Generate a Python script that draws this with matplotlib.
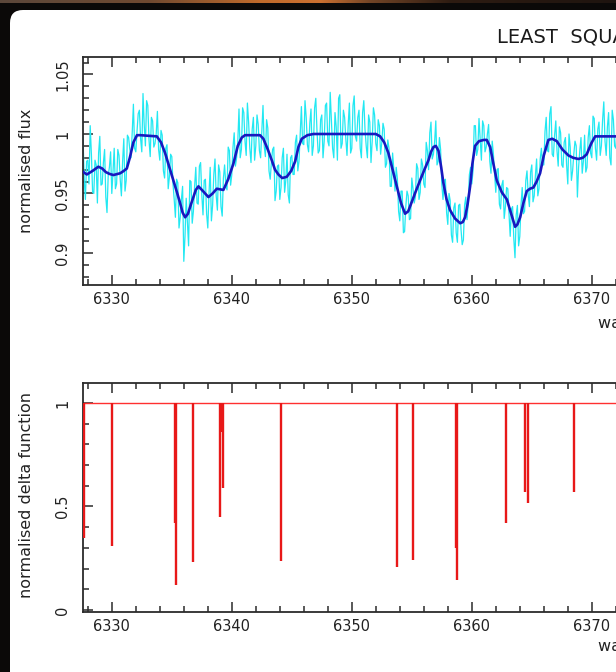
import numpy as np
import matplotlib
matplotlib.use("Agg")
import matplotlib.pyplot as plt
from matplotlib.patches import FancyBboxPatch
from matplotlib.ticker import MultipleLocator, FixedLocator

# ---------------- data ----------------
# observed spectrum: pixels every 0.1 A from 6327.6 A,
# stored as the even pixels and the odd pixels
obs_start = 6327.6
obs_step = 0.1
flux_even = [
    0.998, 0.945, 0.978, 1.007, 0.951, 0.978, 0.942, 0.998, 0.958, 0.987,
    0.934, 0.972, 0.950, 0.988, 0.958, 0.982, 0.948, 0.996, 0.961, 0.997,
    0.980, 1.025, 0.985, 1.017, 0.996, 1.034, 0.990, 1.024, 0.981, 1.011,
    0.992, 1.019, 0.978, 0.999, 0.963, 0.991, 0.964, 0.981, 0.945, 0.962,
    0.921, 0.945, 0.893, 0.946, 0.906, 0.960, 0.935, 0.972, 0.941, 0.976,
    0.932, 0.962, 0.921, 0.972, 0.940, 0.979, 0.936, 0.968, 0.931, 0.974,
    0.953, 0.986, 0.966, 1.001, 0.980, 1.021, 0.987, 1.018, 0.982, 1.010,
    0.976, 1.014, 0.990, 1.008, 0.980, 1.024, 0.981, 1.005, 0.962, 0.987,
    0.944, 0.973, 0.945, 0.980, 0.951, 0.983, 0.942, 0.982, 0.966, 0.999,
    0.977, 1.023, 0.991, 1.014, 0.985, 1.021, 0.990, 1.030, 0.984, 1.012,
    0.980, 1.024, 0.994, 1.035, 0.988, 1.018, 0.978, 1.033, 0.992, 1.014,
    0.982, 1.026, 0.988, 1.032, 0.994, 1.020, 0.980, 1.028, 0.990, 1.016,
    0.976, 1.022, 0.992, 1.012, 0.983, 1.009, 0.972, 0.995, 0.956, 0.984,
    0.952, 0.962, 0.927, 0.952, 0.918, 0.952, 0.928, 0.963, 0.942, 0.975,
    0.945, 0.979, 0.958, 0.993, 0.970, 1.010, 0.983, 1.011, 0.977, 0.987,
    0.945, 0.962, 0.924, 0.944, 0.909, 0.942, 0.909, 0.941, 0.907, 0.940,
    0.928, 0.966, 0.958, 1.007, 0.982, 1.013, 0.978, 1.007, 0.989, 1.008,
    0.967, 0.983, 0.951, 0.971, 0.937, 0.961, 0.939, 0.954, 0.914, 0.939,
    0.896, 0.940, 0.914, 0.955, 0.935, 0.969, 0.939, 0.974, 0.948, 0.979,
    0.954, 0.988, 0.974, 1.014, 0.985, 1.023, 0.981, 1.011, 0.973, 1.001,
    0.972, 0.997, 0.958, 0.989, 0.969, 0.994, 0.947, 0.986, 0.967, 0.999,
    0.972, 1.007, 0.980, 1.013, 0.978, 1.010, 0.990, 1.027, 0.982, 1.018,
    0.974, 1.012, 0.988, 1.020,
]
flux_odd = [
    0.962, 0.977, 0.958, 0.983, 0.950, 0.974, 0.984, 0.957, 0.976, 0.947,
    0.965, 0.985, 0.968, 0.954, 0.987, 0.962, 0.977, 0.952, 0.999, 0.987,
    1.001, 0.988, 1.002, 1.020, 0.985, 1.008, 1.028, 0.995, 1.014, 0.989,
    1.000, 0.987, 1.003, 0.969, 0.988, 0.954, 0.983, 0.958, 0.930, 0.959,
    0.930, 0.956, 0.914, 0.926, 0.961, 0.925, 0.956, 0.942, 0.973, 0.949,
    0.961, 0.933, 0.950, 0.927, 0.966, 0.948, 0.974, 0.939, 0.963, 0.957,
    0.989, 0.957, 0.989, 0.973, 0.994, 0.980, 1.022, 0.994, 1.026, 0.988,
    1.004, 0.978, 1.016, 0.986, 1.002, 0.990, 1.012, 0.969, 0.976, 0.989,
    0.952, 0.974, 0.955, 0.988, 0.961, 0.949, 0.980, 0.966, 0.993, 0.969,
    0.999, 0.992, 1.028, 0.991, 1.009, 0.982, 1.022, 1.002, 0.986, 1.016,
    0.994, 1.026, 0.990, 1.012, 0.980, 1.006, 1.030, 0.988, 1.020, 0.996,
    1.008, 0.984, 1.024, 0.998, 1.014, 0.988, 1.018, 1.004, 0.980, 1.010,
    0.994, 1.016, 0.986, 1.007, 0.993, 1.004, 0.975, 0.988, 0.956, 0.970,
    0.972, 0.935, 0.952, 0.917, 0.939, 0.948, 0.929, 0.954, 0.947, 0.971,
    0.951, 0.974, 0.955, 0.986, 1.001, 0.979, 0.993, 0.974, 0.997, 0.958,
    0.961, 0.934, 0.950, 0.915, 0.938, 0.917, 0.940, 0.920, 0.911, 0.947,
    0.942, 0.972, 0.969, 1.007, 0.987, 0.996, 1.011, 0.985, 1.000, 0.977,
    0.994, 0.966, 0.970, 0.941, 0.957, 0.929, 0.955, 0.933, 0.937, 0.912,
    0.932, 0.906, 0.940, 0.933, 0.961, 0.949, 0.968, 0.943, 0.965, 0.948,
    0.979, 0.974, 1.002, 0.986, 1.017, 0.983, 0.999, 0.986, 1.006, 0.974,
    0.993, 0.974, 1.000, 0.961, 0.983, 0.990, 0.972, 0.997, 0.977, 0.968,
    0.997, 0.984, 1.015, 0.988, 1.004, 0.982, 1.012, 0.994, 1.006, 0.980,
    1.020, 0.990, 1.008,
]

# least-squares model profile
fit_wave = [
    6327.63, 6327.92, 6328.40, 6328.88, 6329.20, 6329.50, 6329.80, 6330.13,
    6330.70, 6331.00, 6331.25, 6331.50, 6331.80, 6332.10, 6332.36, 6333.75,
    6334.10, 6334.44, 6334.80, 6335.13, 6335.40, 6335.69, 6335.90, 6336.11,
    6336.35, 6336.60, 6336.80, 6337.00, 6337.22, 6337.60, 6338.05, 6338.40,
    6338.75, 6339.30, 6339.70, 6340.13, 6340.50, 6340.83, 6341.10, 6342.35,
    6342.63, 6343.00, 6343.33, 6343.60, 6343.88, 6344.20, 6344.58, 6344.95,
    6345.28, 6345.55, 6345.83, 6346.30, 6346.80, 6352.00, 6352.36, 6352.70,
    6353.05, 6353.40, 6353.75, 6354.10, 6354.44, 6354.70, 6355.00, 6355.30,
    6355.69, 6356.05, 6356.39, 6356.60, 6356.80, 6357.00, 6357.22, 6357.45,
    6357.63, 6357.90, 6358.19, 6358.60, 6359.03, 6359.25, 6359.44, 6359.65,
    6359.86, 6360.05, 6360.27, 6360.60, 6361.00, 6361.25, 6361.53, 6361.80,
    6362.08, 6362.50, 6362.92, 6363.25, 6363.61, 6363.80, 6364.03, 6364.30,
    6364.58, 6364.85, 6365.13, 6365.40, 6365.69, 6366.00, 6366.38, 6366.70,
    6367.08, 6367.55, 6368.05, 6368.45, 6368.88, 6369.25, 6369.58, 6369.95,
    6370.28, 6372.03, 6374.00,
]
fit_flux = [
    0.968, 0.966, 0.969, 0.9725, 0.971, 0.968, 0.9665, 0.9655,
    0.967, 0.969, 0.971, 0.980, 0.993, 0.999, 0.999, 0.998,
    0.993, 0.984, 0.972, 0.961, 0.952, 0.942, 0.934, 0.930,
    0.933, 0.941, 0.947, 0.953, 0.956, 0.952, 0.947, 0.950,
    0.954, 0.953, 0.962, 0.975, 0.990, 0.997, 0.999, 0.999,
    0.996, 0.987, 0.978, 0.970, 0.966, 0.963, 0.964, 0.969,
    0.977, 0.989, 0.996, 0.999, 1.000, 1.000, 0.998, 0.993,
    0.984, 0.970, 0.956, 0.942, 0.933, 0.935, 0.943, 0.951,
    0.961, 0.970, 0.978, 0.985, 0.989, 0.990, 0.986, 0.972,
    0.959, 0.945, 0.936, 0.929, 0.925, 0.926, 0.930, 0.941,
    0.956, 0.975, 0.990, 0.994, 0.995, 0.995, 0.989, 0.975,
    0.961, 0.951, 0.945, 0.934, 0.922, 0.924, 0.930, 0.942,
    0.952, 0.954, 0.955, 0.960, 0.967, 0.982, 0.995, 0.996,
    0.994, 0.987, 0.982, 0.980, 0.979, 0.980, 0.983, 0.992,
    0.998, 0.998, 0.998,
]

# line list: positions and normalised delta-function depths
line_wave = [
    6327.65, 6330.05, 6335.25, 6335.35, 6336.80, 6339.00, 6339.08, 6339.25,
    6344.10, 6353.80, 6355.10, 6358.65, 6358.75, 6362.85, 6364.40, 6364.65,
    6368.55,
]
line_depth = [
    0.35, 0.31, 0.42, 0.12, 0.23, 0.45, 0.86, 0.59,
    0.235, 0.21, 0.24, 0.30, 0.145, 0.42, 0.57, 0.515,
    0.57,
]

xmajor = [6330, 6340, 6350, 6360, 6370, 6380, 6390]
xmajor_labels = ["6330", "6340", "6350", "6360", "6370", "", ""]
flux_ticks = [0.9, 0.95, 1.0, 1.05]
flux_ticklabels = ["0.9", "0.95", "1", "1.05"]
delta_ticks = [0.0, 0.5, 1.0]
delta_ticklabels = ["0", "0.5", "1"]

# ---------------- figure ----------------
W, H = 616, 672
fig = plt.figure(figsize=(W / 100, H / 100), dpi=100, facecolor="#0b0908")

# backdrop: warm strip along the top edge and a white rounded panel
bg = fig.add_axes([0, 0, 1, 1])
bg.set_xlim(0, W)
bg.set_ylim(H, 0)
bg.axis("off")
stops_x = [0, 150, 260, 320, 370, 450, 616]
stops_c = np.array([
    [0.36, 0.28, 0.23], [0.44, 0.29, 0.19], [0.76, 0.42, 0.17],
    [0.80, 0.44, 0.19], [0.45, 0.27, 0.15], [0.18, 0.11, 0.07],
    [0.12, 0.08, 0.06],
])
xs = np.arange(W)
grad = np.stack([np.interp(xs, stops_x, stops_c[:, k]) for k in range(3)], axis=-1)
bg.imshow(grad[None, :, :], extent=(0, W, 3.5, 0), aspect="auto", interpolation="bilinear")
bg.add_patch(FancyBboxPatch((10, 10), W + 60, H + 60,
                            boxstyle="round,pad=0,rounding_size=13",
                            fc="white", ec="none"))

XMIN, XMAX = 6327.6, 6392.0
PX_PER_A = 12.0
ax_w = (XMAX - XMIN) * PX_PER_A / W
ink = "#2b2b2b"


def style_axes(ax):
    ax.set_facecolor("none")
    for s in ax.spines.values():
        s.set_color(ink)
        s.set_linewidth(1.3)
    ax.set_xlim(XMIN, XMAX)
    ax.xaxis.set_major_locator(FixedLocator(xmajor))
    ax.set_xticklabels(xmajor_labels)
    ax.xaxis.set_minor_locator(MultipleLocator(2))
    ax.tick_params(which="both", direction="in", top=True, right=True,
                   colors=ink, width=1.1)
    ax.tick_params(which="major", length=7)
    ax.tick_params(which="minor", length=4)
    ax.tick_params(axis="x", labelsize=10.5, pad=5, labelcolor="#222222")
    ax.tick_params(axis="y", labelsize=10.5, pad=9, labelrotation=90,
                   labelcolor="#222222")
    for lab in ax.get_yticklabels():
        lab.set_va("center")


# top panel: observed flux and model
obs_flux = np.empty(len(flux_even) + len(flux_odd))
obs_flux[0::2] = flux_even
obs_flux[1::2] = flux_odd
obs_wave = obs_start + obs_step * np.arange(len(obs_flux))

ax1 = fig.add_axes([83 / W, 1 - 285 / H, ax_w, 228 / H])
ax1.plot(obs_wave, obs_flux, color="#22e8f2", lw=0.9, zorder=2)
ax1.plot(fit_wave, fit_flux, color="#1818c0", lw=1.9, zorder=3)
ax1.set_ylim(0.8731, 1.0647)
ax1.set_yticks(flux_ticks)
ax1.set_yticklabels(flux_ticklabels)
ax1.yaxis.set_minor_locator(MultipleLocator(0.01))
style_axes(ax1)

# bottom panel: delta functions
ax2 = fig.add_axes([83 / W, 1 - 612 / H, ax_w, 229 / H])
ax2.axhline(1.0, color="#ff3030", lw=1.0, zorder=2)
ax2.vlines(line_wave, line_depth, 1.0, color="#e81818", lw=1.7, zorder=3)
ax2.set_ylim(-0.0097, 1.0966)
ax2.set_yticks(delta_ticks)
ax2.set_yticklabels(delta_ticklabels)
ax2.yaxis.set_minor_locator(MultipleLocator(0.1))
style_axes(ax2)

# axis labels and title
fig.text(27 / W, 1 - 171 / H, "normalised flux", rotation=90, ha="center",
         va="center", fontsize=11.5, color="#222222")
fig.text(27 / W, 1 - 495 / H, "normalised delta function", rotation=90,
         ha="center", va="center", fontsize=11.5, color="#222222")
fig.text(598 / W, 1 - 322 / H, "wavelength (Å)", ha="left", va="center",
         fontsize=11.5, color="#222222")
fig.text(598 / W, 1 - 645 / H, "wavelength (Å)", ha="left", va="center",
         fontsize=11.5, color="#222222")
fig.text(497 / W, 1 - 37 / H, "LEAST  SQUARES  DECONVOLUTION", ha="left",
         va="center", fontsize=14, color="#1a1a1a")

fig.savefig("out.png", dpi=100, facecolor=fig.get_facecolor())
